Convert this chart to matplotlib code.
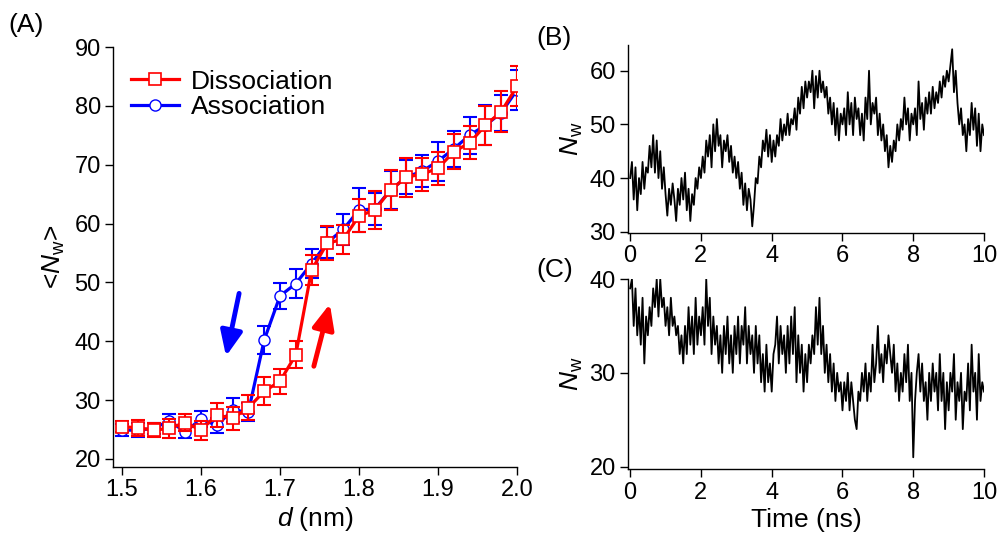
import numpy as np
import matplotlib
matplotlib.use('Agg')
import matplotlib.pyplot as plt

plt.rcParams['font.family'] = ['Liberation Sans', 'DejaVu Sans']
plt.rcParams['mathtext.fontset'] = 'custom'
plt.rcParams['mathtext.rm'] = 'Liberation Sans'
plt.rcParams['mathtext.it'] = 'Liberation Sans:italic'

# (A) average water number vs distance
d = [1.50, 1.52, 1.54, 1.56, 1.58, 1.60, 1.62, 1.64, 1.66, 1.68, 1.70, 1.72, 1.74,
     1.76, 1.78, 1.80, 1.82, 1.84, 1.86, 1.88, 1.90, 1.92, 1.94, 1.96, 1.98, 2.00]
diss = [25.5, 25.3, 24.9, 25.2, 26.2, 24.9, 27.5, 26.9, 28.7, 31.5, 33.2, 37.7, 52.1,
        56.7, 57.3, 61.3, 62.3, 65.7, 67.9, 68.4, 69.4, 72.2, 73.7, 76.7, 79.0, 83.3]
diss_err = [0.9, 1.4, 1.2, 1.6, 1.4, 1.6, 2.0, 2.0, 2.1, 2.4, 2.1, 2.3, 2.5,
            2.9, 2.5, 2.8, 3.2, 3.4, 3.3, 2.8, 2.8, 3.0, 2.8, 3.3, 3.5, 3.4]
assoc = [24.9, 24.9, 25.2, 26.5, 24.6, 26.8, 25.7, 28.3, 28.0, 40.2, 47.7, 49.8, 53.2,
         56.8, 59.0, 62.3, 62.5, 65.7, 67.9, 68.9, 70.6, 72.7, 75.0, 76.7, 78.8, 82.7]
assoc_err = [1.0, 1.2, 1.0, 1.1, 1.0, 1.4, 1.3, 2.0, 1.5, 2.4, 2.2, 2.5, 2.5,
             2.6, 2.7, 3.7, 2.7, 3.3, 2.9, 2.7, 3.3, 3.1, 3.1, 3.4, 3.0, 3.4]

# (B) and (C) time traces, sampled every 0.05 ns
time = np.arange(201) * 0.05
nw_b = [40, 43, 36, 42, 34, 40, 37, 43, 38, 42,
        41, 46, 42, 48, 41, 47, 40, 45, 38, 42,
        37, 33, 38, 35, 39, 36, 32, 38, 35, 40,
        36, 41, 34, 38, 32, 37, 35, 40, 38, 42,
        40, 44, 41, 47, 44, 48, 42, 50, 45, 51,
        46, 48, 42, 47, 45, 48, 43, 46, 41, 44,
        40, 43, 38, 41, 35, 39, 34, 38, 36, 31,
        35, 40, 39, 44, 42, 47, 45, 49, 44, 48,
        43, 47, 44, 48, 46, 51, 47, 50, 48, 52,
        48, 51, 50, 53, 49, 55, 52, 57, 53, 58,
        55, 58, 56, 60, 53, 59, 55, 60, 56, 58,
        55, 57, 52, 55, 50, 54, 48, 53, 47, 52,
        50, 53, 48, 56, 50, 54, 48, 55, 51, 53,
        48, 52, 47, 55, 51, 60, 50, 54, 52, 55,
        48, 52, 47, 50, 45, 48, 42, 46, 43, 47,
        45, 50, 47, 51, 49, 55, 50, 53, 47, 52,
        50, 53, 48, 58, 51, 54, 49, 55, 52, 56,
        52, 57, 53, 56, 54, 58, 55, 59, 57, 60,
        58, 61, 64, 56, 60, 54, 50, 53, 48, 50,
        45, 51, 48, 54, 49, 53, 46, 52, 45, 50,
        48]
nw_c = [39, 40, 35, 39, 34, 37, 33, 38, 31, 36,
        34, 37, 35, 39, 37, 40, 36, 40, 37, 38,
        35, 37, 34, 38, 35, 36, 34, 35, 32, 34,
        31, 35, 32, 37, 33, 36, 32, 38, 33, 36,
        34, 37, 33, 40, 35, 38, 32, 36, 33, 35,
        31, 34, 30, 35, 32, 36, 31, 34, 30, 35,
        32, 36, 31, 35, 33, 37, 31, 35, 32, 34,
        30, 35, 31, 34, 29, 32, 28, 33, 29, 31,
        28, 32, 33, 36, 31, 35, 32, 34, 30, 35,
        31, 36, 32, 37, 29, 34, 30, 33, 28, 32,
        29, 33, 31, 34, 32, 37, 33, 38, 32, 35,
        30, 33, 29, 32, 28, 31, 27, 30, 28, 29,
        26, 29, 27, 30, 26, 29, 27, 25, 24, 28,
        27, 30, 28, 31, 27, 30, 28, 33, 29, 31,
        35, 30, 32, 29, 33, 31, 34, 32, 30, 33,
        28, 31, 27, 30, 28, 32, 29, 33, 27, 30,
        21, 27, 30, 32, 28, 31, 27, 29, 25, 30,
        27, 31, 28, 30, 26, 32, 27, 30, 24, 29,
        26, 30, 28, 32, 25, 29, 27, 30, 24, 28,
        27, 31, 26, 33, 28, 30, 25, 32, 27, 29,
        28]

fig = plt.figure(figsize=(9.98, 5.46), dpi=100)
axA = fig.add_axes([0.1132, 0.1447, 0.4048, 0.7692])
axB = fig.add_axes([0.6293, 0.5733, 0.3567, 0.3443])
axC = fig.add_axes([0.6293, 0.1405, 0.3567, 0.3485])

for ax in (axA, axB, axC):
    for s in ('top', 'right'):
        ax.spines[s].set_visible(False)
    for s in ('left', 'bottom'):
        ax.spines[s].set_linewidth(1.0)
    ax.tick_params(direction='out', length=5.8, width=1.0, labelsize=17, pad=3)

# panel A
axA.errorbar(d, assoc, yerr=assoc_err, fmt='none', ecolor='blue', elinewidth=1.5,
             capsize=5, capthick=1.5, zorder=2)
axA.plot(d, assoc, '-o', color='blue', lw=2.3, ms=8, mfc='white', mec='blue',
         mew=1.0, label='Association', zorder=3)
axA.errorbar(d, diss, yerr=diss_err, fmt='none', ecolor='red', elinewidth=1.5,
             capsize=5, capthick=1.5, zorder=4)
axA.plot(d, diss, '-s', color='red', lw=2.3, ms=8.5, mfc='white', mec='red',
         mew=1.2, label='Dissociation', zorder=5)

axA.annotate('', xy=(1.631, 37.0), xytext=(1.649, 48.6),
             arrowprops=dict(arrowstyle='-|>,head_length=0.5,head_width=0.22',
                             color='blue', lw=3.5, mutation_scale=30))
axA.annotate('', xy=(1.764, 46.8), xytext=(1.742, 35.3),
             arrowprops=dict(arrowstyle='-|>,head_length=0.5,head_width=0.22',
                             color='red', lw=3.5, mutation_scale=30))

axA.set_xlim(1.4886, 2.0)
axA.set_ylim(18.64, 90)
axA.set_xticks([1.5, 1.6, 1.7, 1.8, 1.9, 2.0])
axA.set_xticklabels(['1.5', '1.6', '1.7', '1.8', '1.9', '2.0'])
axA.set_yticks([20, 30, 40, 50, 60, 70, 80, 90])
axA.set_xlabel('$d$ (nm)', fontsize=19, labelpad=3)
axA.set_ylabel('<$N_{\\mathrm{w}}$>', fontsize=19, labelpad=5)

h, l = axA.get_legend_handles_labels()
axA.legend(h[::-1], l[::-1], loc='upper left', bbox_to_anchor=(0.0, 0.99),
           frameon=False, fontsize=19, handlelength=1.8, handletextpad=0.45,
           labelspacing=0.05, borderaxespad=0.3)

# panel B
axB.plot(time, nw_b, color='black', lw=1.3)
axB.set_xlim(-0.06, 10)
axB.set_ylim(29.76, 64.8)
axB.set_xticks([0, 2, 4, 6, 8, 10])
axB.set_yticks([30, 40, 50, 60])
axB.set_ylabel('$N_{\\mathrm{w}}$', fontsize=19, labelpad=3)

# panel C
axC.plot(time, nw_c, color='black', lw=1.3)
axC.set_xlim(-0.06, 10)
axC.set_ylim(19.72, 40)
axC.set_xticks([0, 2, 4, 6, 8, 10])
axC.set_yticks([20, 30, 40])
axC.set_xlabel('Time (ns)', fontsize=19, labelpad=3)
axC.set_ylabel('$N_{\\mathrm{w}}$', fontsize=19, labelpad=3)

fig.text(0.008, 0.955, '(A)', fontsize=19, va='center')
fig.text(0.537, 0.93, '(B)', fontsize=19, va='center')
fig.text(0.537, 0.505, '(C)', fontsize=19, va='center')

fig.savefig('out.png', dpi=100)
